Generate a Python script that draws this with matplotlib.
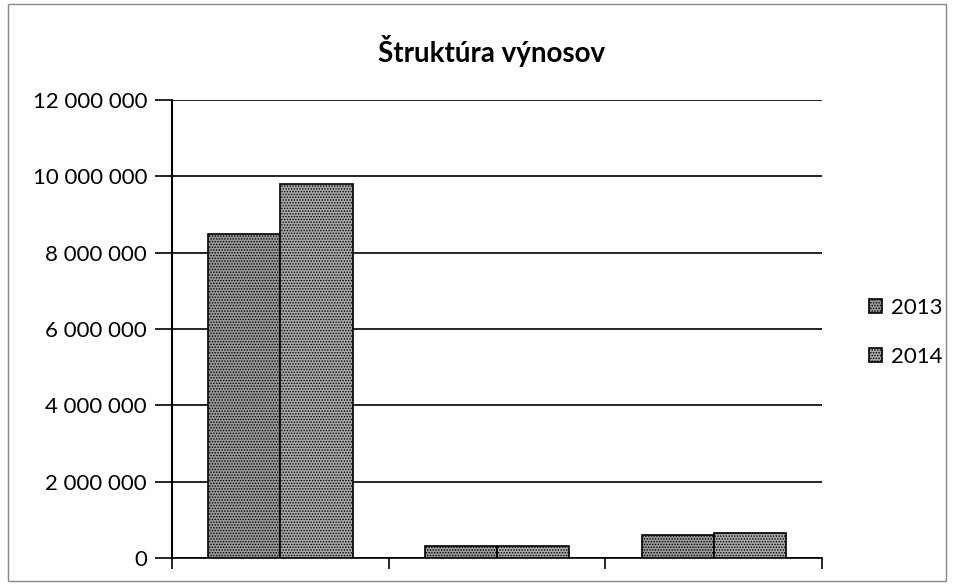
import matplotlib
matplotlib.use('Agg')
import matplotlib.pyplot as plt
import numpy as np
from matplotlib.patches import Rectangle

categories = ['A', 'B', 'C']
years = ['2013', '2014']
vals_2013 = [8500000, 310000, 600000]
vals_2014 = [9800000, 310000, 650000]
yticks = [0, 2000000, 4000000, 6000000, 8000000, 10000000, 12000000]

plt.rcParams['font.family'] = ['Lato', 'DejaVu Sans']
plt.rcParams['hatch.color'] = '#5e5e5e'
plt.rcParams['hatch.linewidth'] = 0.7

fig = plt.figure(figsize=(9.56, 5.85), dpi=100)
ax = fig.add_axes([0.180, 0.0462, 0.680, 0.783])

x = np.arange(len(categories))
w = 0.333
b1 = ax.bar(x - w / 2, vals_2013, w, color='#999999', edgecolor='black', linewidth=1.2,
            hatch='......', label=years[0], zorder=3)
b2 = ax.bar(x + w / 2, vals_2014, w, color='#a8a8a8', edgecolor='black', linewidth=1.2,
            hatch='......', label=years[1], zorder=3)

ax.set_xlim(-0.5, len(categories) - 0.5)
ax.set_ylim(0, 12000000)
ax.set_yticks(yticks)
ax.set_yticklabels(['{:,}'.format(v).replace(',', ' ') for v in yticks], fontsize=16)
ax.set_xticks(np.arange(len(categories) + 1) - 0.5)
ax.set_xticklabels([])
ax.tick_params(axis='y', length=12, width=1.2, pad=6)
ax.tick_params(axis='x', length=8, width=1.2, direction='out')
ax.yaxis.grid(True, color='black', linewidth=1.2, zorder=0)
ax.set_axisbelow(True)
for s in ['top', 'right']:
    ax.spines[s].set_visible(False)
ax.spines['left'].set_linewidth(1.5)
ax.spines['bottom'].set_linewidth(1.2)

fig.text(0.514, 0.912, 'Štruktúra výnosov', ha='center', va='center',
         fontsize=20, fontweight='bold')

fig.legend(handles=[b1, b2], loc='center left', bbox_to_anchor=(0.888, 0.432),
           frameon=False, fontsize=16, handlelength=0.6, handleheight=0.6,
           handletextpad=0.4, labelspacing=1.3)

fig.patches.append(Rectangle((0.008, 0.006), 0.982, 0.988, transform=fig.transFigure,
                             fill=False, edgecolor='#888888', linewidth=1))

fig.savefig('out.png', dpi=100)
